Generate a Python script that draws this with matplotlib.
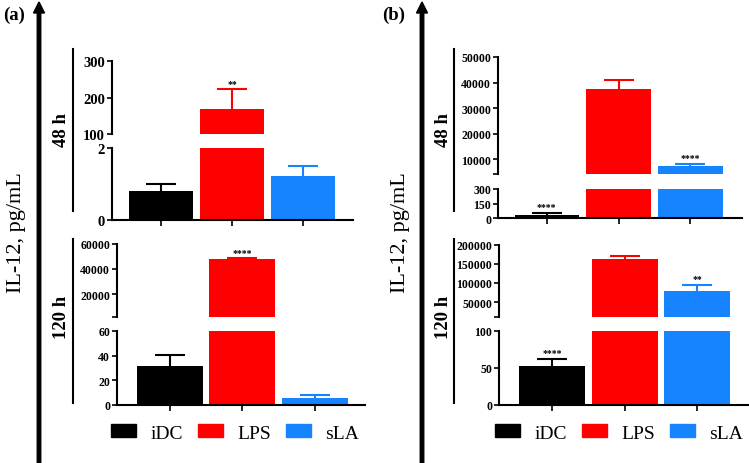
import numpy as np
import matplotlib
matplotlib.use('Agg')
import matplotlib.pyplot as plt
from matplotlib.patches import Patch

plt.rcParams['font.family'] = 'Liberation Serif'

W, H = 749, 464
dpi = 100

groups = ['iDC', 'LPS', 'sLA']
colors = ['#000000', '#ff0000', '#1784ff']

# panel (a) values
a48_mean = [0.81, 168, 1.22]
a48_err = [0.19, 54, 0.28]
a48_sig = ['', '**', '']
a120_mean = [31.6, 47500, 5.7]
a120_err = [9.0, 1000, 2.3]
a120_sig = ['', '****', '']

# panel (b) values
b48_mean = [35, 37500, 7550]
b48_err = [18, 3400, 800]
b48_sig = ['****', '', '****']
b120_mean = [52.5, 163000, 78000]
b120_err = [10, 6800, 17000]
b120_sig = ['****', '', '**']


def add_ax(x0, y0, x1, y1):
    # pixel box -> figure fraction
    return fig.add_axes([x0 / W, 1 - y1 / H, (x1 - x0) / W, (y1 - y0) / H])


def broken(xr, ytop, ybot, top_lim, top_ticks, top_lbls, bot_lim, bot_ticks,
           xlim, width, means, errs, sig, fs):
    x = np.arange(len(means))
    ax_t = add_ax(xr[0], ytop[0], xr[1], ytop[1])
    ax_b = add_ax(xr[0], ybot[0], xr[1], ybot[1])
    for ax in (ax_t, ax_b):
        ax.patch.set_visible(False)
        ax.bar(x, means, width=width, color=colors, zorder=2)
        for xi, m, e, c in zip(x, means, errs, colors):
            # upper error only
            ax.errorbar(xi, m, yerr=[[0], [e]], color=c, capsize=0,
                        elinewidth=1.5, zorder=1)
            ax.plot(xi, m + e, marker='_', ms=22, mew=1.5, color=c, zorder=3)
        ax.set_xlim(xlim)
        for s in ('top', 'right'):
            ax.spines[s].set_visible(False)
        ax.spines['left'].set_linewidth(1.5)
        ax.spines['bottom'].set_linewidth(1.5)
        ax.tick_params(axis='y', length=3.5, width=1.2, pad=1.5, labelsize=fs)
    ax_t.set_ylim(top_lim)
    ax_t.set_yticks(top_ticks)
    ax_t.set_yticklabels(top_lbls, fontweight='bold', fontsize=fs)
    ax_t.spines['bottom'].set_visible(False)
    ax_t.set_xticks([])
    ax_b.set_ylim(bot_lim)
    ax_b.set_yticks(bot_ticks)
    ax_b.set_yticklabels([str(v) for v in bot_ticks], fontweight='bold', fontsize=fs)
    ax_b.set_xticks(x)
    ax_b.set_xticklabels([])
    ax_b.tick_params(axis='x', length=4.5, width=1.2, direction='out')
    for xi, m, e, s in zip(x, means, errs, sig):
        if not s:
            continue
        top = m + e
        ax = ax_t if top > bot_lim[1] else ax_b
        ax.annotate(s, (xi, top), xytext=(0, 1), textcoords='offset points',
                    ha='center', va='bottom', fontsize=7, fontweight='bold',
                    annotation_clip=False)
    return ax_t, ax_b


fig = plt.figure(figsize=(W / dpi, H / dpi), dpi=dpi)
over = fig.add_axes([0, 0, 1, 1])
over.set_xlim(0, W)
over.set_ylim(H, 0)
over.axis('off')

# panel (a)
broken((112, 353), (62, 135), (149, 221), (100, 300), [100, 200, 300],
       ['100', '200', '300'], (0, 2), [0, 2], (-0.69, 2.70), 0.9,
       a48_mean, a48_err, a48_sig, 10.5)
broken((117, 365), (244.5, 318), (332, 406), (2350, 60000),
       [2350, 20000, 40000, 60000], ['', '20000', '40000', '60000'],
       (0, 60), [0, 20, 40, 60], (-0.73, 2.69), 0.91,
       a120_mean, a120_err, a120_sig, 8.5)

# panel (b)
broken((498, 742), (58, 175), (190, 219), (4340, 50000),
       [4340, 10000, 20000, 30000, 40000, 50000],
       ['', '10000', '20000', '30000', '40000', '50000'],
       (0, 300), [0, 150, 300], (-0.68, 2.72), 0.9,
       b48_mean, b48_err, b48_sig, 8.5)
broken((499, 749), (245.5, 317.5), (332, 406), (12200, 200000),
       [12200, 50000, 100000, 150000, 200000],
       ['', '50000', '100000', '150000', '200000'],
       (0, 100), [0, 50, 100], (-0.73, 2.71), 0.91,
       b120_mean, b120_err, b120_sig, 8.5)

# frame decorations: arrows, separators, labels
for ax_x, lab_x, sep_x, txt_x, tag, tag_x in [(39, 17, 73, 62, '(a)', 14),
                                              (422, 400, 454, 443, '(b)', 394)]:
    over.arrow(ax_x, H, 0, -(H - 3), width=3.5, head_width=11, head_length=11,
               length_includes_head=True, color='k')
    over.text(tag_x, 15, tag, ha='center', va='center', fontsize=13.5, fontweight='bold')
    over.text(lab_x, 233, 'IL-12, pg/mL', rotation=90, ha='center', va='center',
              fontsize=16)
    over.plot([sep_x, sep_x], [50, 212], color='k', lw=1.5)
    over.plot([sep_x, sep_x], [240, 404], color='k', lw=1.5)
    over.text(txt_x, 130, '48 h', rotation=90, ha='center', va='center',
              fontsize=13.5, fontweight='bold')
    over.text(txt_x, 317, '120 h', rotation=90, ha='center', va='center',
              fontsize=13.5, fontweight='bold')

handles = [Patch(color=c) for c in colors]
for cx in (235, 619):
    fig.legend(handles, groups, loc='center', bbox_to_anchor=(cx / W, 1 - 434 / H),
               ncol=3, frameon=False, fontsize=14, handlelength=1.29,
               handleheight=0.62, handletextpad=0.75, columnspacing=0.75)

fig.savefig('out.png', dpi=dpi)
